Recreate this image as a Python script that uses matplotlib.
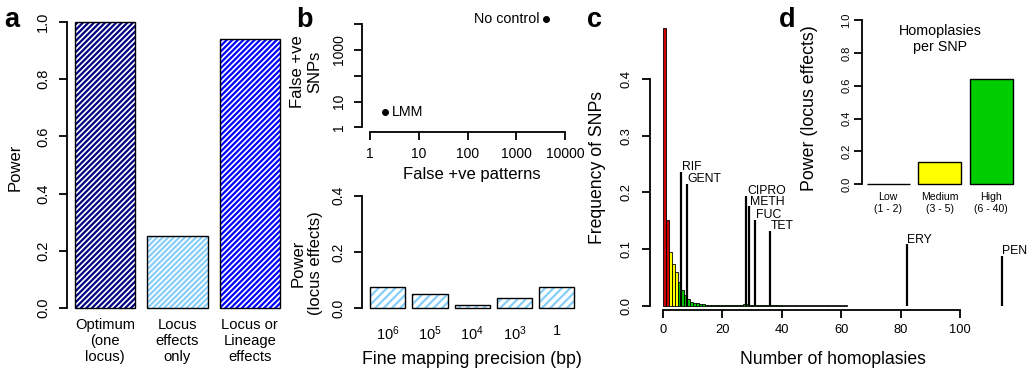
import matplotlib
matplotlib.use("Agg")
import matplotlib.pyplot as plt
import numpy as np

# ---------------- data ----------------
a_labels = ["Optimum\n(one\nlocus)", "Locus\neffects\nonly", "Locus or\nLineage\neffects"]
a_power = [1.0, 0.25, 0.94]
a_colors = ["#000080", "#87cefa", "#0000ff"]

b_names = ["LMM", "No control"]
b_fp_patterns = [2, 4100]
b_fp_snps = [4, 16000]

b_prec_labels = ["$10^6$", "$10^5$", "$10^4$", "$10^3$", "1"]
b_prec_power = [0.0745, 0.050, 0.013, 0.0375, 0.0745]

# histogram of homoplasies per SNP (bins of width 1 starting at 0)
c_freq = [0.49, 0.152, 0.095, 0.074, 0.060, 0.042, 0.028, 0.018, 0.011, 0.007,
          0.005, 0.004, 0.003, 0.003, 0.002, 0.002, 0.002, 0.002, 0.002, 0.002,
          0.002, 0.002, 0.002, 0.002, 0.002, 0.002, 0.002, 0.003, 0.003, 0.002,
          0.002, 0.002, 0.002, 0.002, 0.002, 0.002, 0.002, 0.002, 0.002, 0.002,
          0.002, 0.002, 0.002, 0.002, 0.002, 0.002, 0.002, 0.002, 0.002, 0.002,
          0.001, 0.001, 0.001, 0.001, 0.001, 0.001, 0.001, 0.001, 0.001, 0.001,
          0.001, 0.001]
c_drugs = ["RIF", "GENT", "CIPRO", "METH", "FUC", "TET", "ERY", "PEN"]
c_drug_x = [6, 8, 28, 29, 31, 36, 82, 114]
c_drug_h = [0.236, 0.215, 0.194, 0.175, 0.152, 0.132, 0.109, 0.088]

d_labels = ["Low\n(1 - 2)", "Medium\n(3 - 5)", "High\n(6 - 40)"]
d_power = [0.0, 0.137, 0.642]
d_colors = ["#ffffff", "#ffff00", "#00cd00"]

# ---------------- style ----------------
plt.rcParams['font.family'] = ['Liberation Sans', 'DejaVu Sans']
plt.rcParams['mathtext.fontset'] = 'custom'
plt.rcParams['mathtext.rm'] = 'Liberation Sans'
plt.rcParams['mathtext.it'] = 'Liberation Sans'
plt.rcParams['hatch.linewidth'] = 1.6

W, H = 1033, 383
fig = plt.figure(figsize=(W / 100, H / 100), dpi=100)

SPW = 1.3
TL = 5.8


def px_axes(left, top, right, bottom):
    return fig.add_axes([left / W, 1 - bottom / H, (right - left) / W, (bottom - top) / H])


def ftext(x, y, s, **kw):
    fig.text(x / W, 1 - y / H, s, **kw)


def r_style(ax, bottom=True):
    for s in ['top', 'right']:
        ax.spines[s].set_visible(False)
    ax.spines['left'].set_linewidth(SPW)
    ax.spines['bottom'].set_linewidth(SPW)
    if not bottom:
        ax.spines['bottom'].set_visible(False)
    ax.tick_params(width=SPW, length=TL, direction='out')


def hatched_bars(ax, x, h, colors, hatch, edge_lw=1.0):
    ax.bar(x, h, width=1.0, color='white', edgecolor=colors, hatch=hatch, linewidth=0)
    ax.bar(x, h, width=1.0, fill=False, edgecolor='black', linewidth=edge_lw)


# ---------------- panel a ----------------
axa = px_axes(66.7, 10.6, 288.3, 319.4)
xa = np.arange(len(a_power)) * 1.2 + 0.7
hatched_bars(axa, xa, a_power, a_colors, '//////')
axa.set_xlim(0.064, 3.736)
axa.set_ylim(-0.04, 1.04)
r_style(axa, bottom=False)
axa.spines['left'].set_bounds(0, 1)
axa.set_yticks([0, 0.2, 0.4, 0.6, 0.8, 1.0])
axa.set_yticklabels(["0.0", "0.2", "0.4", "0.6", "0.8", "1.0"], rotation=90, va='center', fontsize=10.5)
axa.tick_params(axis='y', pad=6)
axa.set_xticks(xa)
axa.set_xticklabels(a_labels, fontsize=10.6, linespacing=1.2)
axa.tick_params(axis='x', length=0, pad=-1)
ftext(15, 167, "Power", rotation=90, ha='center', va='center', fontsize=12)

# ---------------- panel b top ----------------
axb1 = px_axes(362, 15, 575, 132.3)
axb1.set_xscale('log')
axb1.set_yscale('log')
axb1.plot(b_fp_patterns, b_fp_snps, 'o', color='black', markersize=4, clip_on=False)
axb1.set_xlim(0.686, 10 ** 4.2)
axb1.set_ylim(0.64, 10 ** 4.353)
r_style(axb1)
axb1.spines['left'].set_bounds(1, 1e4)
axb1.spines['bottom'].set_bounds(1, 1e4)
axb1.set_xticks([1, 10, 100, 1000, 10000])
axb1.set_xticklabels(["1", "10", "100", "1000", "10000"], fontsize=10)
axb1.set_yticks([1, 10, 100, 1000, 10000])
axb1.set_yticklabels(["1", "10", "", "1000", ""], rotation=90, va='center', fontsize=10)
axb1.minorticks_off()
axb1.tick_params(axis='y', pad=6)
axb1.tick_params(axis='x', pad=5)
axb1.annotate(b_names[0], (b_fp_patterns[0], b_fp_snps[0]), xytext=(5, 0), textcoords='offset points',
              ha='left', va='center', fontsize=10.3)
axb1.annotate(b_names[1], (b_fp_patterns[1], b_fp_snps[1]), xytext=(-5, 0), textcoords='offset points',
              ha='right', va='center', fontsize=10.3, annotation_clip=False)
ftext(472, 175, "False +ve patterns", ha='center', va='center', fontsize=12)
ftext(306, 72, "False +ve\nSNPs", rotation=90, ha='center', va='center', fontsize=12, linespacing=1.15)

# ---------------- panel b bottom ----------------
axb2 = px_axes(362, 191, 582.4, 312.8)
xb = np.arange(len(b_prec_power)) * 1.2 + 0.7
hatched_bars(axb2, xb, b_prec_power, ["#87cefa"] * len(b_prec_power), '////')
axb2.set_xlim(-0.032, 6.232)
axb2.set_ylim(-0.016, 0.416)
r_style(axb2, bottom=False)
axb2.spines['left'].set_bounds(0, 0.4)
axb2.set_yticks([0, 0.2, 0.4])
axb2.set_yticklabels(["0.0", "0.2", "0.4"], rotation=90, va='center', fontsize=10)
axb2.tick_params(axis='y', pad=6)
axb2.set_xticks(xb)
axb2.set_xticklabels(b_prec_labels, fontsize=10.5)
axb2.tick_params(axis='x', length=0, pad=8)
ftext(472, 360, "Fine mapping precision (bp)", ha='center', va='center', fontsize=12.8)
ftext(307, 263, "Power\n(locus effects)", rotation=90, ha='center', va='center', fontsize=12, linespacing=1.15)

# ---------------- panel c ----------------
axc = px_axes(650, 10, 1018.2, 309.5)
edges = np.arange(len(c_freq))
ccols = []
for i in range(len(c_freq)):
    if i < 2:
        ccols.append("#cd0000")
    elif i < 5:
        ccols.append("#ffff00")
    elif i < 40:
        ccols.append("#00cd00")
    else:
        ccols.append("#ffffff")
axc.bar(edges, c_freq, width=1.0, align='edge', color=ccols, edgecolor='black', linewidth=0.6)
axc.vlines(c_drug_x, 0, c_drug_h, color='black', linewidth=1.6)
for name, x, h in zip(c_drugs, c_drug_x, c_drug_h):
    axc.annotate(name, (x, h), xytext=(0.5, 1), textcoords='offset points', ha='left', va='baseline',
                 fontsize=8.8, annotation_clip=False)
axc.set_xlim(-4.4, 119.6)
axc.set_ylim(-0.0067, 0.5215)
r_style(axc)
axc.spines['left'].set_bounds(0, 0.4)
axc.spines['bottom'].set_bounds(0, 100)
axc.set_xticks([0, 20, 40, 60, 80, 100])
axc.set_xticklabels(["0", "20", "40", "60", "80", "100"], fontsize=9.3)
axc.set_yticks([0, 0.1, 0.2, 0.3, 0.4])
axc.set_yticklabels(["0.0", "0.1", "0.2", "0.3", "0.4"], rotation=90, va='center', fontsize=9.3)
axc.tick_params(axis='y', pad=6.5)
axc.tick_params(axis='x', pad=4.7)
ftext(833, 359, "Number of homoplasies", ha='center', va='center', fontsize=12.7)
ftext(597, 168, "Frequency of SNPs", rotation=90, ha='center', va='center', fontsize=12.7)

# ---------------- panel d ----------------
axd = px_axes(861.8, 13.8, 1018.7, 190.5)
xd = np.arange(len(d_power)) * 1.2 + 0.7
axd.bar(xd, d_power, width=1.0, color=d_colors, edgecolor='black', linewidth=1.0)
axd.set_xlim(0.086, 3.736)
axd.set_ylim(-0.04, 1.04)
r_style(axd, bottom=False)
axd.spines['left'].set_bounds(0, 1)
axd.set_yticks([0, 0.2, 0.4, 0.6, 0.8, 1.0])
axd.set_yticklabels(["0.0", "0.2", "0.4", "0.6", "0.8", "1.0"], rotation=90, va='center', fontsize=8)
axd.tick_params(axis='y', pad=2, length=5.5)
axd.set_xticks(xd)
axd.set_xticklabels(d_labels, fontsize=7.6, linespacing=1.25)
axd.tick_params(axis='x', length=0, pad=1)
ftext(940, 39, "Homoplasies\nper SNP", ha='center', va='center', fontsize=10.3, linespacing=1.2)
ftext(810, 108, "Power (locus effects)", rotation=90, ha='center', va='center', fontsize=12.8)

# ---------------- panel letters ----------------
for lab, x in zip("abcd", [4, 296, 587, 779]):
    ftext(x, 27, lab, ha='left', va='baseline', fontsize=19.5, fontweight='bold')

fig.savefig("out.png", dpi=100)
